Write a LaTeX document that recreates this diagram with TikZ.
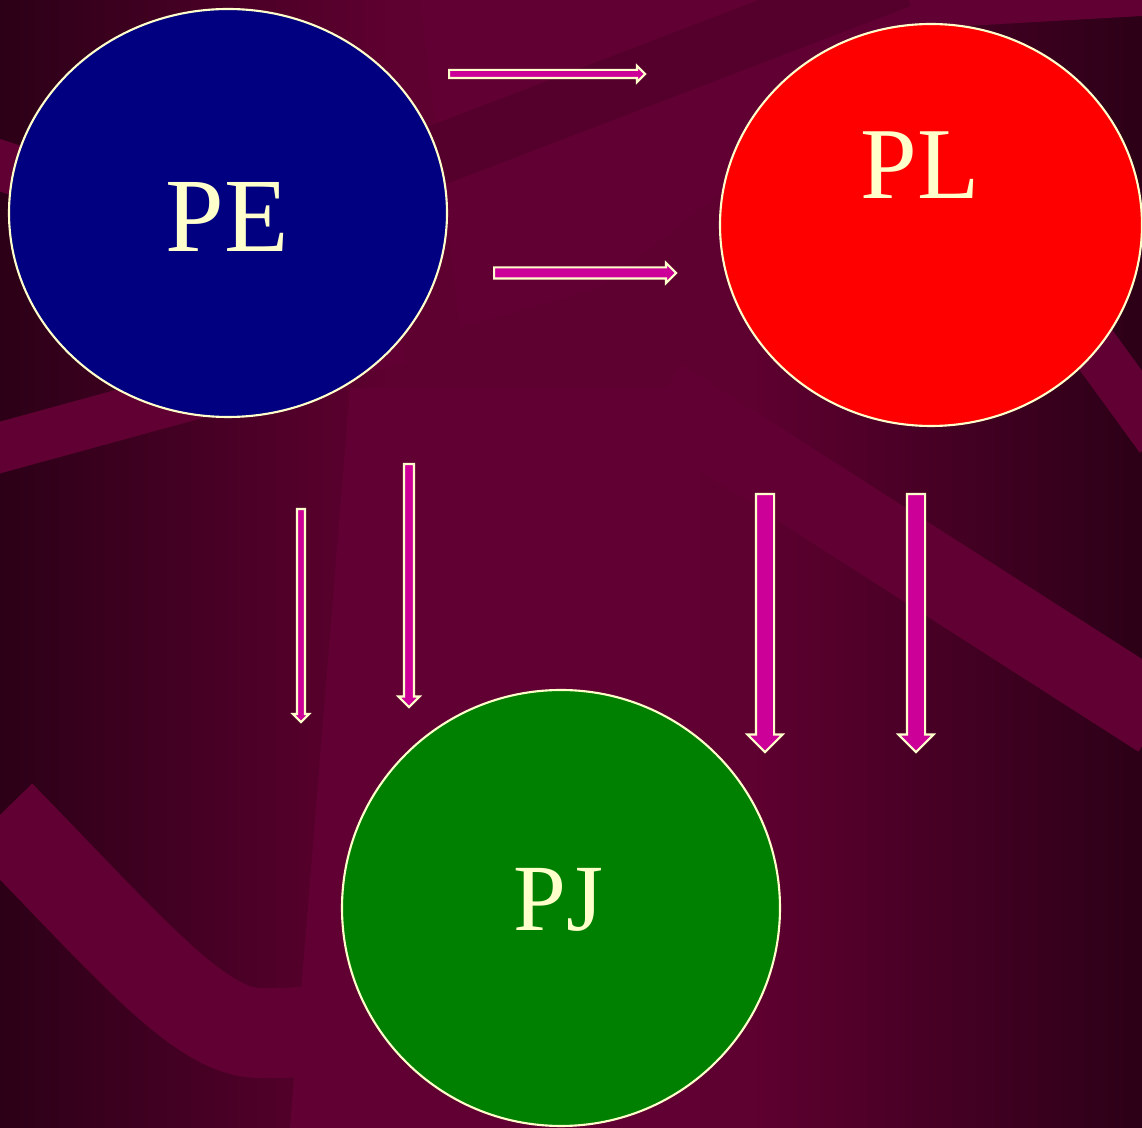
\documentclass[tikz,border=0pt]{standalone}
\usepackage{fontspec}
\setmainfont{Liberation Serif}
\usetikzlibrary{shapes.geometric,shapes.arrows}
\definecolor{cream}{HTML}{FFFFCC}
\definecolor{bandred}{HTML}{610032}
\definecolor{darkband}{HTML}{55002C}
\definecolor{edgered}{HTML}{2C0017}
\definecolor{midred}{HTML}{5E0030}
\definecolor{arrowpink}{HTML}{CC0099}
\definecolor{navyblue}{HTML}{000080}
\definecolor{leafgreen}{HTML}{008000}
\pgfdeclarehorizontalshading{slideback}{100bp}{color(0bp)=(edgered); color(25bp)=(edgered); color(42bp)=(midred); color(58bp)=(midred); color(75bp)=(edgered); color(100bp)=(edgered)}
\tikzset{
  bubble/.style={ellipse,draw=cream,line width=0.6pt,inner sep=0pt},
  bubbletext/.style={text=cream,anchor=base},
  block/.style={single arrow,draw=cream,fill=arrowpink,line width=0.6pt,inner xsep=0pt,
    single arrow tip angle=90,anchor=tail},
  band/.style={line cap=butt}
}
\begin{document}
\begin{tikzpicture}
\useasboundingbox (0,0) rectangle (11.42,11.28);
% background
\shade[shading=slideback] (0,0) rectangle (11.42,11.28);
\begin{scope}
\clip (0,0) rectangle (11.42,11.28);
\fill[bandred] (4.2,11.28) -- (11.42,11.28) -- (11.42,11.12) -- (9.3,11.0) -- (6.0,8.4) -- (4.6,8.0) -- cycle;
\fill[bandred] (3.5,7.4) -- (7.0,7.4) -- (7.0,0) -- (2.9,0) -- cycle;
\draw[band,darkband,line width=0.6cm] (4.3,9.7) -- (9.0,11.5);
\draw[band,bandred,line width=0.5cm] (-0.1,9.66) -- (1.0,9.3);
\draw[band,bandred,line width=0.9cm] (0,3.13) .. controls (1.3,1.8) and (2.0,0.95) .. (2.6,0.95) .. controls (3.0,0.95) .. (3.5,1.05);
\draw[band,bandred,line width=0.5cm] (-0.2,6.75) -- (4.0,7.9);
\draw[band,bandred,line width=0.8cm] (6.6,7.3) -- (11.6,4.1);
\draw[band,bandred,line width=0.5cm] (10.8,8.0) -- (11.6,6.9);
\end{scope}
% bubbles
\node[bubble,fill=navyblue,minimum width=4.38cm,minimum height=4.08cm] (pe) at (2.28,9.15) {};
\node[bubble,fill=red,minimum width=4.22cm,minimum height=4.02cm] (pl) at (9.31,9.03) {};
\node[bubble,fill=leafgreen,minimum width=4.38cm,minimum height=4.36cm] (pj) at (5.61,2.20) {};
\node[bubbletext,font=\fontsize{30}{36}\selectfont] (petext) at (2.275,8.76) {PE};
\node[bubbletext,font=\fontsize{29}{35}\selectfont] (pltext) at (9.20,9.29) {PL};
\node[bubbletext,font=\fontsize{27}{32}\selectfont] (pjtext) at (5.585,1.97) {PJ};
% arrows
\node[block,minimum height=1.96cm,inner ysep=0.03cm,single arrow head extend=0.04cm] (ar1) at (4.48,10.54) {};
\node[block,minimum height=1.82cm,inner ysep=0.045cm,single arrow head extend=0.045cm] (ar2) at (4.93,8.55) {};
\node[block,rotate=-90,minimum height=2.13cm,inner ysep=0.03cm,single arrow head extend=0.04cm] (ar3) at (3.01,6.20) {};
\node[block,rotate=-90,minimum height=2.43cm,inner ysep=0.04cm,single arrow head extend=0.055cm] (ar4) at (4.09,6.65) {};
\node[block,rotate=-90,minimum height=2.58cm,inner ysep=0.08cm,single arrow head extend=0.085cm] (ar5) at (7.65,6.35) {};
\node[block,rotate=-90,minimum height=2.58cm,inner ysep=0.08cm,single arrow head extend=0.085cm] (ar6) at (9.16,6.35) {};
\end{tikzpicture}
\end{document}
